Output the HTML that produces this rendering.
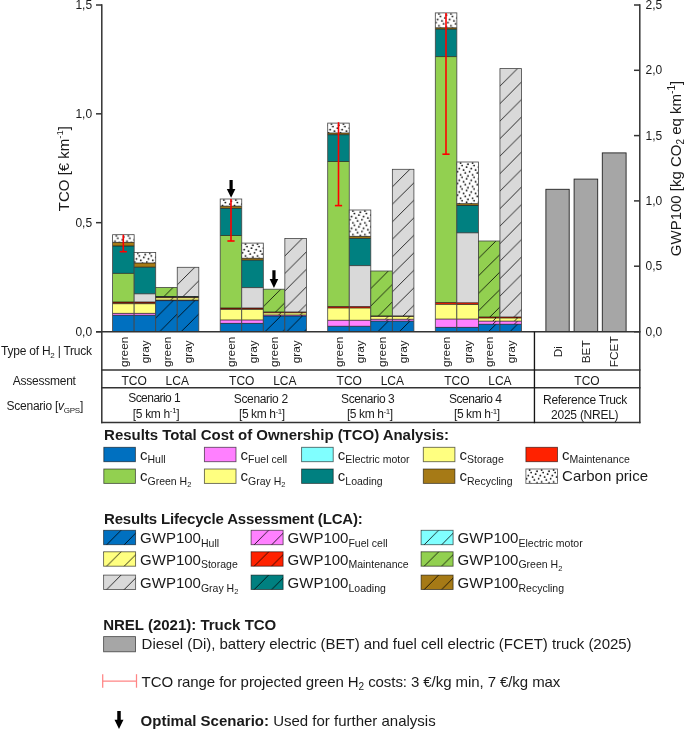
<!DOCTYPE html><html><head><meta charset="utf-8"><title>TCO and LCA results</title>
<style>html,body{margin:0;padding:0;background:#fff;}svg{display:block;will-change:transform;}text{font-family:"Liberation Sans",sans-serif;fill:#1a1a1a;}</style></head><body>
<svg width="685" height="730" viewBox="0 0 685 730">
<defs>
<pattern id="hatch" patternUnits="userSpaceOnUse" width="17.5" height="17.5"><path d="M-1,1 L1,-1 M0,17.5 L17.5,0 M16.5,18.5 L18.5,16.5" stroke="#000" stroke-width="0.8" fill="none"/></pattern>
<pattern id="dots" patternUnits="userSpaceOnUse" width="12" height="11.75"><rect width="12" height="11.75" fill="#fff"/><g fill="#000"><circle cx="3.7" cy="1.05" r="0.88"/><circle cx="11.1" cy="2.2" r="0.88"/><circle cx="5.2" cy="3.5" r="0.88"/><circle cx="9.7" cy="5.1" r="0.88"/><circle cx="2.4" cy="6.5" r="0.88"/><circle cx="6.7" cy="8.05" r="0.88"/><circle cx="0.7" cy="9.6" r="0.88"/><circle cx="8.4" cy="11.0" r="0.88"/></g></pattern>
</defs>
<g transform="translate(112.60,234.70)"><rect width="21.55" height="7.70" fill="url(#dots)"/></g>
<g transform="translate(112.60,242.40)"><rect width="21.55" height="3.60" fill="#A67A16"/></g>
<g transform="translate(112.60,246.00)"><rect width="21.55" height="27.40" fill="#008080"/></g>
<g transform="translate(112.60,273.40)"><rect width="21.55" height="28.60" fill="#92D050"/></g>
<g transform="translate(112.60,302.00)"><rect width="21.55" height="1.70" fill="#9A1800"/></g>
<g transform="translate(112.60,303.70)"><rect width="21.55" height="9.70" fill="#FFFF80"/></g>
<g transform="translate(112.60,313.40)"><rect width="21.55" height="1.90" fill="#FF80FF"/></g>
<g transform="translate(112.60,315.30)"><rect width="21.55" height="16.20" fill="#0070C0"/></g>
<line x1="112.60" y1="242.40" x2="134.15" y2="242.40" stroke="#111" stroke-width="0.7"/>
<line x1="112.60" y1="246.00" x2="134.15" y2="246.00" stroke="#111" stroke-width="0.7"/>
<line x1="112.60" y1="273.40" x2="134.15" y2="273.40" stroke="#111" stroke-width="0.7"/>
<line x1="112.60" y1="302.00" x2="134.15" y2="302.00" stroke="#111" stroke-width="0.7"/>
<line x1="112.60" y1="303.70" x2="134.15" y2="303.70" stroke="#111" stroke-width="0.7"/>
<line x1="112.60" y1="313.40" x2="134.15" y2="313.40" stroke="#111" stroke-width="0.7"/>
<line x1="112.60" y1="315.30" x2="134.15" y2="315.30" stroke="#111" stroke-width="0.7"/>
<rect x="112.60" y="234.70" width="21.55" height="96.80" fill="none" stroke="#444" stroke-width="0.8"/>
<g transform="translate(134.15,252.40)"><rect width="21.55" height="10.60" fill="url(#dots)"/></g>
<g transform="translate(134.15,263.00)"><rect width="21.55" height="4.20" fill="#A67A16"/></g>
<g transform="translate(134.15,267.20)"><rect width="21.55" height="26.60" fill="#008080"/></g>
<g transform="translate(134.15,293.80)"><rect width="21.55" height="8.20" fill="#D9D9D9"/></g>
<g transform="translate(134.15,302.00)"><rect width="21.55" height="1.70" fill="#9A1800"/></g>
<g transform="translate(134.15,303.70)"><rect width="21.55" height="9.70" fill="#FFFF80"/></g>
<g transform="translate(134.15,313.40)"><rect width="21.55" height="1.90" fill="#FF80FF"/></g>
<g transform="translate(134.15,315.30)"><rect width="21.55" height="16.20" fill="#0070C0"/></g>
<line x1="134.15" y1="263.00" x2="155.70" y2="263.00" stroke="#111" stroke-width="0.7"/>
<line x1="134.15" y1="267.20" x2="155.70" y2="267.20" stroke="#111" stroke-width="0.7"/>
<line x1="134.15" y1="293.80" x2="155.70" y2="293.80" stroke="#111" stroke-width="0.7"/>
<line x1="134.15" y1="302.00" x2="155.70" y2="302.00" stroke="#111" stroke-width="0.7"/>
<line x1="134.15" y1="303.70" x2="155.70" y2="303.70" stroke="#111" stroke-width="0.7"/>
<line x1="134.15" y1="313.40" x2="155.70" y2="313.40" stroke="#111" stroke-width="0.7"/>
<line x1="134.15" y1="315.30" x2="155.70" y2="315.30" stroke="#111" stroke-width="0.7"/>
<rect x="134.15" y="252.40" width="21.55" height="79.10" fill="none" stroke="#444" stroke-width="0.8"/>
<g transform="translate(155.70,287.40)"><rect width="21.55" height="9.10" fill="#92D050"/><rect width="21.55" height="9.10" fill="url(#hatch)"/></g>
<g transform="translate(155.70,296.50)"><rect width="21.55" height="0.60" fill="#008080"/><rect width="21.55" height="0.60" fill="url(#hatch)"/></g>
<g transform="translate(155.70,297.10)"><rect width="21.55" height="0.60" fill="#FF2200"/><rect width="21.55" height="0.60" fill="url(#hatch)"/></g>
<g transform="translate(155.70,297.70)"><rect width="21.55" height="2.40" fill="#FFFF80"/><rect width="21.55" height="2.40" fill="url(#hatch)"/></g>
<g transform="translate(155.70,300.10)"><rect width="21.55" height="0.50" fill="#FF80FF"/><rect width="21.55" height="0.50" fill="url(#hatch)"/></g>
<g transform="translate(155.70,300.60)"><rect width="21.55" height="30.90" fill="#0070C0"/><rect width="21.55" height="30.90" fill="url(#hatch)"/></g>
<line x1="155.70" y1="296.50" x2="177.25" y2="296.50" stroke="#111" stroke-width="0.7"/>
<line x1="155.70" y1="297.10" x2="177.25" y2="297.10" stroke="#111" stroke-width="0.7"/>
<line x1="155.70" y1="297.70" x2="177.25" y2="297.70" stroke="#111" stroke-width="0.7"/>
<line x1="155.70" y1="300.10" x2="177.25" y2="300.10" stroke="#111" stroke-width="0.7"/>
<line x1="155.70" y1="300.60" x2="177.25" y2="300.60" stroke="#111" stroke-width="0.7"/>
<rect x="155.70" y="287.40" width="21.55" height="44.10" fill="none" stroke="#444" stroke-width="0.8"/>
<g transform="translate(177.25,267.30)"><rect width="21.55" height="29.20" fill="#D9D9D9"/><rect width="21.55" height="29.20" fill="url(#hatch)"/></g>
<g transform="translate(177.25,296.50)"><rect width="21.55" height="0.60" fill="#008080"/><rect width="21.55" height="0.60" fill="url(#hatch)"/></g>
<g transform="translate(177.25,297.10)"><rect width="21.55" height="0.60" fill="#FF2200"/><rect width="21.55" height="0.60" fill="url(#hatch)"/></g>
<g transform="translate(177.25,297.70)"><rect width="21.55" height="2.40" fill="#FFFF80"/><rect width="21.55" height="2.40" fill="url(#hatch)"/></g>
<g transform="translate(177.25,300.10)"><rect width="21.55" height="0.50" fill="#FF80FF"/><rect width="21.55" height="0.50" fill="url(#hatch)"/></g>
<g transform="translate(177.25,300.60)"><rect width="21.55" height="30.90" fill="#0070C0"/><rect width="21.55" height="30.90" fill="url(#hatch)"/></g>
<line x1="177.25" y1="296.50" x2="198.80" y2="296.50" stroke="#111" stroke-width="0.7"/>
<line x1="177.25" y1="297.10" x2="198.80" y2="297.10" stroke="#111" stroke-width="0.7"/>
<line x1="177.25" y1="297.70" x2="198.80" y2="297.70" stroke="#111" stroke-width="0.7"/>
<line x1="177.25" y1="300.10" x2="198.80" y2="300.10" stroke="#111" stroke-width="0.7"/>
<line x1="177.25" y1="300.60" x2="198.80" y2="300.60" stroke="#111" stroke-width="0.7"/>
<rect x="177.25" y="267.30" width="21.55" height="64.20" fill="none" stroke="#444" stroke-width="0.8"/>
<g transform="translate(220.20,199.00)"><rect width="21.55" height="7.20" fill="url(#dots)"/></g>
<g transform="translate(220.20,206.20)"><rect width="21.55" height="2.20" fill="#A67A16"/></g>
<g transform="translate(220.20,208.40)"><rect width="21.55" height="27.10" fill="#008080"/></g>
<g transform="translate(220.20,235.50)"><rect width="21.55" height="72.50" fill="#92D050"/></g>
<g transform="translate(220.20,308.00)"><rect width="21.55" height="1.50" fill="#9A1800"/></g>
<g transform="translate(220.20,309.40)"><rect width="21.55" height="10.60" fill="#FFFF80"/></g>
<g transform="translate(220.20,320.00)"><rect width="21.55" height="3.40" fill="#FF80FF"/></g>
<g transform="translate(220.20,323.40)"><rect width="21.55" height="8.10" fill="#0070C0"/></g>
<line x1="220.20" y1="206.20" x2="241.75" y2="206.20" stroke="#111" stroke-width="0.7"/>
<line x1="220.20" y1="208.40" x2="241.75" y2="208.40" stroke="#111" stroke-width="0.7"/>
<line x1="220.20" y1="235.50" x2="241.75" y2="235.50" stroke="#111" stroke-width="0.7"/>
<line x1="220.20" y1="308.00" x2="241.75" y2="308.00" stroke="#111" stroke-width="0.7"/>
<line x1="220.20" y1="309.40" x2="241.75" y2="309.40" stroke="#111" stroke-width="0.7"/>
<line x1="220.20" y1="320.00" x2="241.75" y2="320.00" stroke="#111" stroke-width="0.7"/>
<line x1="220.20" y1="323.40" x2="241.75" y2="323.40" stroke="#111" stroke-width="0.7"/>
<rect x="220.20" y="199.00" width="21.55" height="132.50" fill="none" stroke="#444" stroke-width="0.8"/>
<g transform="translate(241.75,243.10)"><rect width="21.55" height="15.20" fill="url(#dots)"/></g>
<g transform="translate(241.75,258.30)"><rect width="21.55" height="1.90" fill="#A67A16"/></g>
<g transform="translate(241.75,260.20)"><rect width="21.55" height="27.40" fill="#008080"/></g>
<g transform="translate(241.75,287.60)"><rect width="21.55" height="20.40" fill="#D9D9D9"/></g>
<g transform="translate(241.75,308.00)"><rect width="21.55" height="1.50" fill="#9A1800"/></g>
<g transform="translate(241.75,309.40)"><rect width="21.55" height="10.60" fill="#FFFF80"/></g>
<g transform="translate(241.75,320.00)"><rect width="21.55" height="3.40" fill="#FF80FF"/></g>
<g transform="translate(241.75,323.40)"><rect width="21.55" height="8.10" fill="#0070C0"/></g>
<line x1="241.75" y1="258.30" x2="263.30" y2="258.30" stroke="#111" stroke-width="0.7"/>
<line x1="241.75" y1="260.20" x2="263.30" y2="260.20" stroke="#111" stroke-width="0.7"/>
<line x1="241.75" y1="287.60" x2="263.30" y2="287.60" stroke="#111" stroke-width="0.7"/>
<line x1="241.75" y1="308.00" x2="263.30" y2="308.00" stroke="#111" stroke-width="0.7"/>
<line x1="241.75" y1="309.40" x2="263.30" y2="309.40" stroke="#111" stroke-width="0.7"/>
<line x1="241.75" y1="320.00" x2="263.30" y2="320.00" stroke="#111" stroke-width="0.7"/>
<line x1="241.75" y1="323.40" x2="263.30" y2="323.40" stroke="#111" stroke-width="0.7"/>
<rect x="241.75" y="243.10" width="21.55" height="88.40" fill="none" stroke="#444" stroke-width="0.8"/>
<g transform="translate(263.30,289.20)"><rect width="21.55" height="22.80" fill="#92D050"/><rect width="21.55" height="22.80" fill="url(#hatch)"/></g>
<g transform="translate(263.30,312.00)"><rect width="21.55" height="0.80" fill="#FF2200"/><rect width="21.55" height="0.80" fill="url(#hatch)"/></g>
<g transform="translate(263.30,312.80)"><rect width="21.55" height="2.20" fill="#FFFF80"/><rect width="21.55" height="2.20" fill="url(#hatch)"/></g>
<g transform="translate(263.30,315.00)"><rect width="21.55" height="1.00" fill="#FF80FF"/><rect width="21.55" height="1.00" fill="url(#hatch)"/></g>
<g transform="translate(263.30,316.00)"><rect width="21.55" height="15.50" fill="#0070C0"/><rect width="21.55" height="15.50" fill="url(#hatch)"/></g>
<line x1="263.30" y1="312.00" x2="284.85" y2="312.00" stroke="#111" stroke-width="0.7"/>
<line x1="263.30" y1="312.80" x2="284.85" y2="312.80" stroke="#111" stroke-width="0.7"/>
<line x1="263.30" y1="315.00" x2="284.85" y2="315.00" stroke="#111" stroke-width="0.7"/>
<line x1="263.30" y1="316.00" x2="284.85" y2="316.00" stroke="#111" stroke-width="0.7"/>
<rect x="263.30" y="289.20" width="21.55" height="42.30" fill="none" stroke="#444" stroke-width="0.8"/>
<g transform="translate(284.85,238.40)"><rect width="21.55" height="73.60" fill="#D9D9D9"/><rect width="21.55" height="73.60" fill="url(#hatch)"/></g>
<g transform="translate(284.85,312.00)"><rect width="21.55" height="0.80" fill="#FF2200"/><rect width="21.55" height="0.80" fill="url(#hatch)"/></g>
<g transform="translate(284.85,312.80)"><rect width="21.55" height="2.20" fill="#FFFF80"/><rect width="21.55" height="2.20" fill="url(#hatch)"/></g>
<g transform="translate(284.85,315.00)"><rect width="21.55" height="1.00" fill="#FF80FF"/><rect width="21.55" height="1.00" fill="url(#hatch)"/></g>
<g transform="translate(284.85,316.00)"><rect width="21.55" height="15.50" fill="#0070C0"/><rect width="21.55" height="15.50" fill="url(#hatch)"/></g>
<line x1="284.85" y1="312.00" x2="306.40" y2="312.00" stroke="#111" stroke-width="0.7"/>
<line x1="284.85" y1="312.80" x2="306.40" y2="312.80" stroke="#111" stroke-width="0.7"/>
<line x1="284.85" y1="315.00" x2="306.40" y2="315.00" stroke="#111" stroke-width="0.7"/>
<line x1="284.85" y1="316.00" x2="306.40" y2="316.00" stroke="#111" stroke-width="0.7"/>
<rect x="284.85" y="238.40" width="21.55" height="93.10" fill="none" stroke="#444" stroke-width="0.8"/>
<g transform="translate(327.70,123.10)"><rect width="21.55" height="9.90" fill="url(#dots)"/></g>
<g transform="translate(327.70,133.00)"><rect width="21.55" height="1.70" fill="#A67A16"/></g>
<g transform="translate(327.70,134.70)"><rect width="21.55" height="26.80" fill="#008080"/></g>
<g transform="translate(327.70,161.50)"><rect width="21.55" height="145.10" fill="#92D050"/></g>
<g transform="translate(327.70,306.60)"><rect width="21.55" height="1.40" fill="#FF2200"/></g>
<g transform="translate(327.70,308.00)"><rect width="21.55" height="12.30" fill="#FFFF80"/></g>
<g transform="translate(327.70,320.30)"><rect width="21.55" height="6.00" fill="#FF80FF"/></g>
<g transform="translate(327.70,326.30)"><rect width="21.55" height="5.20" fill="#0070C0"/></g>
<line x1="327.70" y1="133.00" x2="349.25" y2="133.00" stroke="#111" stroke-width="0.7"/>
<line x1="327.70" y1="134.70" x2="349.25" y2="134.70" stroke="#111" stroke-width="0.7"/>
<line x1="327.70" y1="161.50" x2="349.25" y2="161.50" stroke="#111" stroke-width="0.7"/>
<line x1="327.70" y1="306.60" x2="349.25" y2="306.60" stroke="#111" stroke-width="0.7"/>
<line x1="327.70" y1="308.00" x2="349.25" y2="308.00" stroke="#111" stroke-width="0.7"/>
<line x1="327.70" y1="320.30" x2="349.25" y2="320.30" stroke="#111" stroke-width="0.7"/>
<line x1="327.70" y1="326.30" x2="349.25" y2="326.30" stroke="#111" stroke-width="0.7"/>
<rect x="327.70" y="123.10" width="21.55" height="208.40" fill="none" stroke="#444" stroke-width="0.8"/>
<g transform="translate(349.25,210.00)"><rect width="21.55" height="26.40" fill="url(#dots)"/></g>
<g transform="translate(349.25,236.40)"><rect width="21.55" height="2.00" fill="#A67A16"/></g>
<g transform="translate(349.25,238.40)"><rect width="21.55" height="27.20" fill="#008080"/></g>
<g transform="translate(349.25,265.60)"><rect width="21.55" height="41.00" fill="#D9D9D9"/></g>
<g transform="translate(349.25,306.60)"><rect width="21.55" height="1.40" fill="#FF2200"/></g>
<g transform="translate(349.25,308.00)"><rect width="21.55" height="12.30" fill="#FFFF80"/></g>
<g transform="translate(349.25,320.30)"><rect width="21.55" height="6.00" fill="#FF80FF"/></g>
<g transform="translate(349.25,326.30)"><rect width="21.55" height="5.20" fill="#0070C0"/></g>
<line x1="349.25" y1="236.40" x2="370.80" y2="236.40" stroke="#111" stroke-width="0.7"/>
<line x1="349.25" y1="238.40" x2="370.80" y2="238.40" stroke="#111" stroke-width="0.7"/>
<line x1="349.25" y1="265.60" x2="370.80" y2="265.60" stroke="#111" stroke-width="0.7"/>
<line x1="349.25" y1="306.60" x2="370.80" y2="306.60" stroke="#111" stroke-width="0.7"/>
<line x1="349.25" y1="308.00" x2="370.80" y2="308.00" stroke="#111" stroke-width="0.7"/>
<line x1="349.25" y1="320.30" x2="370.80" y2="320.30" stroke="#111" stroke-width="0.7"/>
<line x1="349.25" y1="326.30" x2="370.80" y2="326.30" stroke="#111" stroke-width="0.7"/>
<rect x="349.25" y="210.00" width="21.55" height="121.50" fill="none" stroke="#444" stroke-width="0.8"/>
<g transform="translate(370.80,271.00)"><rect width="21.55" height="45.00" fill="#92D050"/><rect width="21.55" height="45.00" fill="url(#hatch)"/></g>
<g transform="translate(370.80,316.00)"><rect width="21.55" height="0.40" fill="#FF2200"/><rect width="21.55" height="0.40" fill="url(#hatch)"/></g>
<g transform="translate(370.80,316.40)"><rect width="21.55" height="2.90" fill="#FFFF80"/><rect width="21.55" height="2.90" fill="url(#hatch)"/></g>
<g transform="translate(370.80,319.30)"><rect width="21.55" height="1.90" fill="#FF80FF"/><rect width="21.55" height="1.90" fill="url(#hatch)"/></g>
<g transform="translate(370.80,321.20)"><rect width="21.55" height="10.30" fill="#0070C0"/><rect width="21.55" height="10.30" fill="url(#hatch)"/></g>
<line x1="370.80" y1="316.00" x2="392.35" y2="316.00" stroke="#111" stroke-width="0.7"/>
<line x1="370.80" y1="316.40" x2="392.35" y2="316.40" stroke="#111" stroke-width="0.7"/>
<line x1="370.80" y1="319.30" x2="392.35" y2="319.30" stroke="#111" stroke-width="0.7"/>
<line x1="370.80" y1="321.20" x2="392.35" y2="321.20" stroke="#111" stroke-width="0.7"/>
<rect x="370.80" y="271.00" width="21.55" height="60.50" fill="none" stroke="#444" stroke-width="0.8"/>
<g transform="translate(392.35,169.30)"><rect width="21.55" height="146.70" fill="#D9D9D9"/><rect width="21.55" height="146.70" fill="url(#hatch)"/></g>
<g transform="translate(392.35,316.00)"><rect width="21.55" height="0.40" fill="#FF2200"/><rect width="21.55" height="0.40" fill="url(#hatch)"/></g>
<g transform="translate(392.35,316.40)"><rect width="21.55" height="2.90" fill="#FFFF80"/><rect width="21.55" height="2.90" fill="url(#hatch)"/></g>
<g transform="translate(392.35,319.30)"><rect width="21.55" height="1.90" fill="#FF80FF"/><rect width="21.55" height="1.90" fill="url(#hatch)"/></g>
<g transform="translate(392.35,321.20)"><rect width="21.55" height="10.30" fill="#0070C0"/><rect width="21.55" height="10.30" fill="url(#hatch)"/></g>
<line x1="392.35" y1="316.00" x2="413.90" y2="316.00" stroke="#111" stroke-width="0.7"/>
<line x1="392.35" y1="316.40" x2="413.90" y2="316.40" stroke="#111" stroke-width="0.7"/>
<line x1="392.35" y1="319.30" x2="413.90" y2="319.30" stroke="#111" stroke-width="0.7"/>
<line x1="392.35" y1="321.20" x2="413.90" y2="321.20" stroke="#111" stroke-width="0.7"/>
<rect x="392.35" y="169.30" width="21.55" height="162.20" fill="none" stroke="#444" stroke-width="0.8"/>
<g transform="translate(435.30,12.90)"><rect width="21.55" height="14.90" fill="url(#dots)"/></g>
<g transform="translate(435.30,27.80)"><rect width="21.55" height="1.40" fill="#A67A16"/></g>
<g transform="translate(435.30,29.20)"><rect width="21.55" height="27.40" fill="#008080"/></g>
<g transform="translate(435.30,56.60)"><rect width="21.55" height="246.00" fill="#92D050"/></g>
<g transform="translate(435.30,302.60)"><rect width="21.55" height="1.80" fill="#FF2200"/></g>
<g transform="translate(435.30,304.40)"><rect width="21.55" height="14.70" fill="#FFFF80"/></g>
<g transform="translate(435.30,319.10)"><rect width="21.55" height="8.30" fill="#FF80FF"/></g>
<g transform="translate(435.30,327.40)"><rect width="21.55" height="4.10" fill="#0070C0"/></g>
<line x1="435.30" y1="27.80" x2="456.85" y2="27.80" stroke="#111" stroke-width="0.7"/>
<line x1="435.30" y1="29.20" x2="456.85" y2="29.20" stroke="#111" stroke-width="0.7"/>
<line x1="435.30" y1="56.60" x2="456.85" y2="56.60" stroke="#111" stroke-width="0.7"/>
<line x1="435.30" y1="302.60" x2="456.85" y2="302.60" stroke="#111" stroke-width="0.7"/>
<line x1="435.30" y1="304.40" x2="456.85" y2="304.40" stroke="#111" stroke-width="0.7"/>
<line x1="435.30" y1="319.10" x2="456.85" y2="319.10" stroke="#111" stroke-width="0.7"/>
<line x1="435.30" y1="327.40" x2="456.85" y2="327.40" stroke="#111" stroke-width="0.7"/>
<rect x="435.30" y="12.90" width="21.55" height="318.60" fill="none" stroke="#444" stroke-width="0.8"/>
<g transform="translate(456.85,162.00)"><rect width="21.55" height="41.70" fill="url(#dots)"/></g>
<g transform="translate(456.85,203.70)"><rect width="21.55" height="1.80" fill="#A67A16"/></g>
<g transform="translate(456.85,205.50)"><rect width="21.55" height="27.30" fill="#008080"/></g>
<g transform="translate(456.85,232.80)"><rect width="21.55" height="70.00" fill="#D9D9D9"/></g>
<g transform="translate(456.85,302.80)"><rect width="21.55" height="1.70" fill="#FF2200"/></g>
<g transform="translate(456.85,304.50)"><rect width="21.55" height="14.60" fill="#FFFF80"/></g>
<g transform="translate(456.85,319.10)"><rect width="21.55" height="8.30" fill="#FF80FF"/></g>
<g transform="translate(456.85,327.40)"><rect width="21.55" height="4.10" fill="#0070C0"/></g>
<line x1="456.85" y1="203.70" x2="478.40" y2="203.70" stroke="#111" stroke-width="0.7"/>
<line x1="456.85" y1="205.50" x2="478.40" y2="205.50" stroke="#111" stroke-width="0.7"/>
<line x1="456.85" y1="232.80" x2="478.40" y2="232.80" stroke="#111" stroke-width="0.7"/>
<line x1="456.85" y1="302.80" x2="478.40" y2="302.80" stroke="#111" stroke-width="0.7"/>
<line x1="456.85" y1="304.50" x2="478.40" y2="304.50" stroke="#111" stroke-width="0.7"/>
<line x1="456.85" y1="319.10" x2="478.40" y2="319.10" stroke="#111" stroke-width="0.7"/>
<line x1="456.85" y1="327.40" x2="478.40" y2="327.40" stroke="#111" stroke-width="0.7"/>
<rect x="456.85" y="162.00" width="21.55" height="169.50" fill="none" stroke="#444" stroke-width="0.8"/>
<g transform="translate(478.40,241.00)"><rect width="21.55" height="76.00" fill="#92D050"/><rect width="21.55" height="76.00" fill="url(#hatch)"/></g>
<g transform="translate(478.40,317.00)"><rect width="21.55" height="1.00" fill="#FF2200"/><rect width="21.55" height="1.00" fill="url(#hatch)"/></g>
<g transform="translate(478.40,318.00)"><rect width="21.55" height="3.20" fill="#FFFF80"/><rect width="21.55" height="3.20" fill="url(#hatch)"/></g>
<g transform="translate(478.40,321.20)"><rect width="21.55" height="3.10" fill="#FF80FF"/><rect width="21.55" height="3.10" fill="url(#hatch)"/></g>
<g transform="translate(478.40,324.30)"><rect width="21.55" height="7.20" fill="#0070C0"/><rect width="21.55" height="7.20" fill="url(#hatch)"/></g>
<line x1="478.40" y1="317.00" x2="499.95" y2="317.00" stroke="#111" stroke-width="0.7"/>
<line x1="478.40" y1="318.00" x2="499.95" y2="318.00" stroke="#111" stroke-width="0.7"/>
<line x1="478.40" y1="321.20" x2="499.95" y2="321.20" stroke="#111" stroke-width="0.7"/>
<line x1="478.40" y1="324.30" x2="499.95" y2="324.30" stroke="#111" stroke-width="0.7"/>
<rect x="478.40" y="241.00" width="21.55" height="90.50" fill="none" stroke="#444" stroke-width="0.8"/>
<g transform="translate(499.95,68.60)"><rect width="21.55" height="248.40" fill="#D9D9D9"/><rect width="21.55" height="248.40" fill="url(#hatch)"/></g>
<g transform="translate(499.95,317.00)"><rect width="21.55" height="1.00" fill="#FF2200"/><rect width="21.55" height="1.00" fill="url(#hatch)"/></g>
<g transform="translate(499.95,318.00)"><rect width="21.55" height="3.20" fill="#FFFF80"/><rect width="21.55" height="3.20" fill="url(#hatch)"/></g>
<g transform="translate(499.95,321.20)"><rect width="21.55" height="3.10" fill="#FF80FF"/><rect width="21.55" height="3.10" fill="url(#hatch)"/></g>
<g transform="translate(499.95,324.30)"><rect width="21.55" height="7.20" fill="#0070C0"/><rect width="21.55" height="7.20" fill="url(#hatch)"/></g>
<line x1="499.95" y1="317.00" x2="521.50" y2="317.00" stroke="#111" stroke-width="0.7"/>
<line x1="499.95" y1="318.00" x2="521.50" y2="318.00" stroke="#111" stroke-width="0.7"/>
<line x1="499.95" y1="321.20" x2="521.50" y2="321.20" stroke="#111" stroke-width="0.7"/>
<line x1="499.95" y1="324.30" x2="521.50" y2="324.30" stroke="#111" stroke-width="0.7"/>
<rect x="499.95" y="68.60" width="21.55" height="262.90" fill="none" stroke="#444" stroke-width="0.8"/>
<rect x="545.9" y="189.3" width="23.30" height="142.20" fill="#A6A6A6" stroke="#222" stroke-width="0.9"/>
<rect x="574.1" y="179.1" width="23.60" height="152.40" fill="#A6A6A6" stroke="#222" stroke-width="0.9"/>
<rect x="602.3" y="152.9" width="23.80" height="178.60" fill="#A6A6A6" stroke="#222" stroke-width="0.9"/>
<line x1="123.3" y1="234.7" x2="123.3" y2="251.7" stroke="#FF0000" stroke-width="1.6"/>
<line x1="119.7" y1="251.7" x2="126.89999999999999" y2="251.7" stroke="#FF0000" stroke-width="1.6"/>
<line x1="231.0" y1="199.0" x2="231.0" y2="241.0" stroke="#FF0000" stroke-width="1.6"/>
<line x1="227.4" y1="241.0" x2="234.6" y2="241.0" stroke="#FF0000" stroke-width="1.6"/>
<line x1="338.5" y1="122.2" x2="338.5" y2="205.6" stroke="#FF0000" stroke-width="1.6"/>
<line x1="334.9" y1="205.6" x2="342.1" y2="205.6" stroke="#FF0000" stroke-width="1.6"/>
<line x1="446.0" y1="12.9" x2="446.0" y2="154.2" stroke="#FF0000" stroke-width="1.6"/>
<line x1="442.4" y1="154.2" x2="449.6" y2="154.2" stroke="#FF0000" stroke-width="1.6"/>
<path d="M229.5,180.0 L232.7,180.0 L232.7,189.1 L235.4,189.1 L231.1,197.7 L226.79999999999998,189.1 L229.5,189.1 Z" fill="#000"/>
<path d="M272.34999999999997,270.2 L275.55,270.2 L275.55,279.1 L278.25,279.1 L273.95,287.9 L269.65,279.1 L272.34999999999997,279.1 Z" fill="#000"/>
<line x1="101.8" y1="4.3" x2="101.8" y2="423.3" stroke="#333" stroke-width="1.5"/>
<line x1="639.8" y1="4.3" x2="639.8" y2="423.3" stroke="#333" stroke-width="1.5"/>
<line x1="96" y1="331.75" x2="102" y2="331.75" stroke="#333" stroke-width="1.5"/>
<text x="92.1" y="335.65" font-size="12" text-anchor="end">0,0</text>
<line x1="96" y1="222.67" x2="102" y2="222.67" stroke="#333" stroke-width="1.5"/>
<text x="92.1" y="226.57" font-size="12" text-anchor="end">0,5</text>
<line x1="96" y1="113.83" x2="102" y2="113.83" stroke="#333" stroke-width="1.5"/>
<text x="92.1" y="117.73" font-size="12" text-anchor="end">1,0</text>
<line x1="96" y1="5.00" x2="102" y2="5.00" stroke="#333" stroke-width="1.5"/>
<text x="92.1" y="8.90" font-size="12" text-anchor="end">1,5</text>
<line x1="634" y1="331.75" x2="640" y2="331.75" stroke="#333" stroke-width="1.5"/>
<text x="645.6" y="335.65" font-size="12">0,0</text>
<line x1="634" y1="266.20" x2="640" y2="266.20" stroke="#333" stroke-width="1.5"/>
<text x="645.6" y="270.10" font-size="12">0,5</text>
<line x1="634" y1="200.90" x2="640" y2="200.90" stroke="#333" stroke-width="1.5"/>
<text x="645.6" y="204.80" font-size="12">1,0</text>
<line x1="634" y1="135.60" x2="640" y2="135.60" stroke="#333" stroke-width="1.5"/>
<text x="645.6" y="139.50" font-size="12">1,5</text>
<line x1="634" y1="70.30" x2="640" y2="70.30" stroke="#333" stroke-width="1.5"/>
<text x="645.6" y="74.20" font-size="12">2,0</text>
<line x1="634" y1="5.00" x2="640" y2="5.00" stroke="#333" stroke-width="1.5"/>
<text x="645.6" y="8.90" font-size="12">2,5</text>
<line x1="96" y1="331.75" x2="640.5" y2="331.75" stroke="#333" stroke-width="1.5"/>
<line x1="101" y1="369.9" x2="640.5" y2="369.9" stroke="#333" stroke-width="1.5"/>
<line x1="101" y1="387.85" x2="640.5" y2="387.85" stroke="#333" stroke-width="1.5"/>
<line x1="101" y1="422.4" x2="640.5" y2="422.4" stroke="#333" stroke-width="1.5"/>
<line x1="534.45" y1="331.75" x2="534.45" y2="423.2" stroke="#151515" stroke-width="1.35"/>
<text transform="translate(69,168.6) rotate(-90)" font-size="15" text-anchor="middle">TCO [€ km<tspan font-size="9.5" dy="-6.2">-1</tspan><tspan dy="6.2">]</tspan></text>
<text transform="translate(680.6,168.5) rotate(-90)" font-size="15" text-anchor="middle">GWP100 [kg CO<tspan font-size="10" dy="3.5">2</tspan><tspan dy="-3.5"> eq km</tspan><tspan font-size="10" dy="-5.5">-1</tspan><tspan dy="5.5">]</tspan></text>
<text transform="translate(127.65,351.8) rotate(-90)" font-size="11.8" text-anchor="middle">green</text>
<text transform="translate(149.20,351.8) rotate(-90)" font-size="11.8" text-anchor="middle">gray</text>
<text transform="translate(170.75,351.8) rotate(-90)" font-size="11.8" text-anchor="middle">green</text>
<text transform="translate(192.30,351.8) rotate(-90)" font-size="11.8" text-anchor="middle">gray</text>
<text transform="translate(235.25,351.8) rotate(-90)" font-size="11.8" text-anchor="middle">green</text>
<text transform="translate(256.80,351.8) rotate(-90)" font-size="11.8" text-anchor="middle">gray</text>
<text transform="translate(278.35,351.8) rotate(-90)" font-size="11.8" text-anchor="middle">green</text>
<text transform="translate(299.90,351.8) rotate(-90)" font-size="11.8" text-anchor="middle">gray</text>
<text transform="translate(342.75,351.8) rotate(-90)" font-size="11.8" text-anchor="middle">green</text>
<text transform="translate(364.30,351.8) rotate(-90)" font-size="11.8" text-anchor="middle">gray</text>
<text transform="translate(385.85,351.8) rotate(-90)" font-size="11.8" text-anchor="middle">green</text>
<text transform="translate(407.40,351.8) rotate(-90)" font-size="11.8" text-anchor="middle">gray</text>
<text transform="translate(450.35,351.8) rotate(-90)" font-size="11.8" text-anchor="middle">green</text>
<text transform="translate(471.90,351.8) rotate(-90)" font-size="11.8" text-anchor="middle">gray</text>
<text transform="translate(493.45,351.8) rotate(-90)" font-size="11.8" text-anchor="middle">green</text>
<text transform="translate(515.00,351.8) rotate(-90)" font-size="11.8" text-anchor="middle">gray</text>
<text transform="translate(561.78,351.8) rotate(-90)" font-size="11.8" text-anchor="middle">Di</text>
<text transform="translate(590.18,351.8) rotate(-90)" font-size="11.8" text-anchor="middle">BET</text>
<text transform="translate(618.48,351.8) rotate(-90)" font-size="11.8" text-anchor="middle">FCET</text>
<text x="134.15" y="385.2" font-size="12" text-anchor="middle">TCO</text>
<text x="177.25" y="385.2" font-size="12" text-anchor="middle">LCA</text>
<text x="241.75" y="385.2" font-size="12" text-anchor="middle">TCO</text>
<text x="284.85" y="385.2" font-size="12" text-anchor="middle">LCA</text>
<text x="349.25" y="385.2" font-size="12" text-anchor="middle">TCO</text>
<text x="392.35" y="385.2" font-size="12" text-anchor="middle">LCA</text>
<text x="456.85" y="385.2" font-size="12" text-anchor="middle">TCO</text>
<text x="499.95" y="385.2" font-size="12" text-anchor="middle">LCA</text>
<text x="587" y="385.2" font-size="12" text-anchor="middle">TCO</text>
<text x="128.20" y="401.80" font-size="12" textLength="52.51" lengthAdjust="spacing">Scenario 1</text>
<text x="233.80" y="402.60" font-size="12" textLength="54.31" lengthAdjust="spacing">Scenario 2</text>
<text x="341.10" y="402.60" font-size="12" textLength="53.71" lengthAdjust="spacing">Scenario 3</text>
<text x="449.10" y="402.60" font-size="12" textLength="52.81" lengthAdjust="spacing">Scenario 4</text>
<text x="132.80" y="417.80" font-size="12" textLength="46.81" lengthAdjust="spacing">[5 km h<tspan font-size="8" dy="-4.6">-1</tspan><tspan dy="4.6">]</tspan></text>
<text x="239.00" y="418.40" font-size="12" textLength="46.11" lengthAdjust="spacing">[5 km h<tspan font-size="8" dy="-4.6">-1</tspan><tspan dy="4.6">]</tspan></text>
<text x="346.90" y="418.40" font-size="12" textLength="46.21" lengthAdjust="spacing">[5 km h<tspan font-size="8" dy="-4.6">-1</tspan><tspan dy="4.6">]</tspan></text>
<text x="454.00" y="418.40" font-size="12" textLength="46.11" lengthAdjust="spacing">[5 km h<tspan font-size="8" dy="-4.6">-1</tspan><tspan dy="4.6">]</tspan></text>
<text x="543.00" y="403.80" font-size="12" textLength="84.26" lengthAdjust="spacing">Reference Truck</text>
<text x="551.10" y="418.75" font-size="12" textLength="67.51" lengthAdjust="spacing">2025 (NREL)</text>
<text x="1.10" y="355.00" font-size="12" textLength="90.96" lengthAdjust="spacing">Type of H<tspan font-size="8" dy="2.9">2</tspan><tspan dy="-2.9"> | Truck</tspan></text>
<text x="12.80" y="384.60" font-size="12" textLength="63.12" lengthAdjust="spacing">Assessment</text>
<text x="6.60" y="409.70" font-size="12" textLength="76.63" lengthAdjust="spacing">Scenario [<tspan font-style="italic">v</tspan><tspan font-size="8" dy="2.9">GPS</tspan><tspan dy="-2.9">]</tspan></text>
<text x="104.10" y="440.40" font-size="15" font-weight="bold" textLength="344.98" lengthAdjust="spacing">Results Total Cost of Ownership (TCO) Analysis:</text>
<g transform="translate(103.8,447.3)"><rect width="31.6" height="14.4" fill="#0070C0"/><rect width="31.6" height="14.4" fill="none" stroke="#000" stroke-opacity="0.6" stroke-width="0.9"/></g>
<text x="140.0" y="459.6" font-size="15">c<tspan font-size="10.5" dy="3.8">Hull</tspan></text>
<g transform="translate(204.4,447.3)"><rect width="31.6" height="14.4" fill="#FF80FF"/><rect width="31.6" height="14.4" fill="none" stroke="#000" stroke-opacity="0.6" stroke-width="0.9"/></g>
<text x="240.60000000000002" y="459.6" font-size="15">c<tspan font-size="10.5" dy="3.8">Fuel cell</tspan></text>
<g transform="translate(301.6,447.3)"><rect width="31.6" height="14.4" fill="#80FFFF"/><rect width="31.6" height="14.4" fill="none" stroke="#000" stroke-opacity="0.6" stroke-width="0.9"/></g>
<text x="337.8" y="459.6" font-size="15">c<tspan font-size="10.5" dy="3.8">Electric motor</tspan></text>
<g transform="translate(423.3,447.3)"><rect width="31.6" height="14.4" fill="#FFFF80"/><rect width="31.6" height="14.4" fill="none" stroke="#000" stroke-opacity="0.6" stroke-width="0.9"/></g>
<text x="459.5" y="459.6" font-size="15">c<tspan font-size="10.5" dy="3.8">Storage</tspan></text>
<g transform="translate(525.9,447.3)"><rect width="31.6" height="14.4" fill="#FF2200"/><rect width="31.6" height="14.4" fill="none" stroke="#000" stroke-opacity="0.6" stroke-width="0.9"/></g>
<text x="562.1" y="459.6" font-size="15">c<tspan font-size="10.5" dy="3.8">Maintenance</tspan></text>
<g transform="translate(103.8,469.0)"><rect width="31.6" height="14.4" fill="#92D050"/><rect width="31.6" height="14.4" fill="none" stroke="#000" stroke-opacity="0.6" stroke-width="0.9"/></g>
<text x="140.0" y="481.2" font-size="15">c<tspan font-size="10.5" dy="3.8">Green H</tspan><tspan font-size="7.5" dy="2.2">2</tspan></text>
<g transform="translate(204.4,469.0)"><rect width="31.6" height="14.4" fill="#FFFF80"/><rect width="31.6" height="14.4" fill="none" stroke="#000" stroke-opacity="0.6" stroke-width="0.9"/></g>
<text x="240.60000000000002" y="481.2" font-size="15">c<tspan font-size="10.5" dy="3.8">Gray H</tspan><tspan font-size="7.5" dy="2.2">2</tspan></text>
<g transform="translate(301.6,469.0)"><rect width="31.6" height="14.4" fill="#008080"/><rect width="31.6" height="14.4" fill="none" stroke="#000" stroke-opacity="0.6" stroke-width="0.9"/></g>
<text x="337.8" y="481.2" font-size="15">c<tspan font-size="10.5" dy="3.8">Loading</tspan></text>
<g transform="translate(423.3,469.0)"><rect width="31.6" height="14.4" fill="#A67A16"/><rect width="31.6" height="14.4" fill="none" stroke="#000" stroke-opacity="0.6" stroke-width="0.9"/></g>
<text x="459.5" y="481.2" font-size="15">c<tspan font-size="10.5" dy="3.8">Recycling</tspan></text>
<g transform="translate(525.9,469.0)"><rect width="31.6" height="14.4" fill="url(#dots)"/><rect width="31.6" height="14.4" fill="none" stroke="#000" stroke-opacity="0.6" stroke-width="0.9"/></g>
<text x="562.1" y="481.2" font-size="15">Carbon price</text>
<text x="104.00" y="523.70" font-size="15" font-weight="bold" textLength="258.81" lengthAdjust="spacing">Results Lifecycle Assessment (LCA):</text>
<g transform="translate(103.6,530.3)"><rect width="32.0" height="14.4" fill="#0070C0"/><rect width="32.0" height="14.4" fill="url(#hatch)"/><rect width="32.0" height="14.4" fill="none" stroke="#000" stroke-opacity="0.6" stroke-width="0.9"/></g>
<text x="140.1" y="543.0" font-size="15">GWP100<tspan font-size="10.5" dy="3.8">Hull</tspan></text>
<g transform="translate(251.1,530.3)"><rect width="32.0" height="14.4" fill="#FF80FF"/><rect width="32.0" height="14.4" fill="url(#hatch)"/><rect width="32.0" height="14.4" fill="none" stroke="#000" stroke-opacity="0.6" stroke-width="0.9"/></g>
<text x="287.6" y="543.0" font-size="15">GWP100<tspan font-size="10.5" dy="3.8">Fuel cell</tspan></text>
<g transform="translate(421.1,530.3)"><rect width="32.0" height="14.4" fill="#80FFFF"/><rect width="32.0" height="14.4" fill="url(#hatch)"/><rect width="32.0" height="14.4" fill="none" stroke="#000" stroke-opacity="0.6" stroke-width="0.9"/></g>
<text x="457.6" y="543.0" font-size="15">GWP100<tspan font-size="10.5" dy="3.8">Electric motor</tspan></text>
<g transform="translate(103.6,551.8)"><rect width="32.0" height="14.4" fill="#FFFF80"/><rect width="32.0" height="14.4" fill="url(#hatch)"/><rect width="32.0" height="14.4" fill="none" stroke="#000" stroke-opacity="0.6" stroke-width="0.9"/></g>
<text x="140.1" y="564.5" font-size="15">GWP100<tspan font-size="10.5" dy="3.8">Storage</tspan></text>
<g transform="translate(251.1,551.8)"><rect width="32.0" height="14.4" fill="#FF2200"/><rect width="32.0" height="14.4" fill="url(#hatch)"/><rect width="32.0" height="14.4" fill="none" stroke="#000" stroke-opacity="0.6" stroke-width="0.9"/></g>
<text x="287.6" y="564.5" font-size="15">GWP100<tspan font-size="10.5" dy="3.8">Maintenance</tspan></text>
<g transform="translate(421.1,551.8)"><rect width="32.0" height="14.4" fill="#92D050"/><rect width="32.0" height="14.4" fill="url(#hatch)"/><rect width="32.0" height="14.4" fill="none" stroke="#000" stroke-opacity="0.6" stroke-width="0.9"/></g>
<text x="457.6" y="564.5" font-size="15">GWP100<tspan font-size="10.5" dy="3.8">Green H</tspan><tspan font-size="7.5" dy="2.2">2</tspan></text>
<g transform="translate(103.6,575.1)"><rect width="32.0" height="14.4" fill="#D9D9D9"/><rect width="32.0" height="14.4" fill="url(#hatch)"/><rect width="32.0" height="14.4" fill="none" stroke="#000" stroke-opacity="0.6" stroke-width="0.9"/></g>
<text x="140.1" y="587.8000000000001" font-size="15">GWP100<tspan font-size="10.5" dy="3.8">Gray H</tspan><tspan font-size="7.5" dy="2.2">2</tspan></text>
<g transform="translate(251.1,575.1)"><rect width="32.0" height="14.4" fill="#008080"/><rect width="32.0" height="14.4" fill="url(#hatch)"/><rect width="32.0" height="14.4" fill="none" stroke="#000" stroke-opacity="0.6" stroke-width="0.9"/></g>
<text x="287.6" y="587.8000000000001" font-size="15">GWP100<tspan font-size="10.5" dy="3.8">Loading</tspan></text>
<g transform="translate(421.1,575.1)"><rect width="32.0" height="14.4" fill="#A67A16"/><rect width="32.0" height="14.4" fill="url(#hatch)"/><rect width="32.0" height="14.4" fill="none" stroke="#000" stroke-opacity="0.6" stroke-width="0.9"/></g>
<text x="457.6" y="587.8000000000001" font-size="15">GWP100<tspan font-size="10.5" dy="3.8">Recycling</tspan></text>
<text x="103.2" y="630.4" font-size="15" font-weight="bold">NREL (2021): Truck TCO</text>
<g transform="translate(103.6,636.6)"><rect width="31.9" height="15.2" fill="#A6A6A6"/><rect width="31.9" height="15.2" fill="none" stroke="#000" stroke-opacity="0.6" stroke-width="0.9"/></g>
<text x="141.60" y="648.80" font-size="15" textLength="489.97" lengthAdjust="spacing">Diesel (Di), battery electric (BET) and fuel cell electric (FCET) truck (2025)</text>
<g stroke="#FF8585" stroke-width="1.25"><line x1="102.7" y1="681" x2="136.5" y2="681"/><line x1="102.7" y1="674.2" x2="102.7" y2="687.7"/><line x1="136.5" y1="674.2" x2="136.5" y2="687.7"/></g>
<text x="141.60" y="686.60" font-size="15" textLength="418.73" lengthAdjust="spacing">TCO range for projected green H<tspan font-size="10" dy="3.6">2</tspan><tspan dy="-3.6"> costs: 3 €/kg min, 7 €/kg max</tspan></text>
<path d="M117.25,710.9 L120.75,710.9 L120.75,719.7 L123.5,719.7 L119.0,728.9 L114.5,719.7 L117.25,719.7 Z" fill="#000"/>
<text x="140.6" y="726.3" font-size="15"><tspan font-weight="bold">Optimal Scenario:</tspan> Used for further analysis</text>
</svg></body></html>
